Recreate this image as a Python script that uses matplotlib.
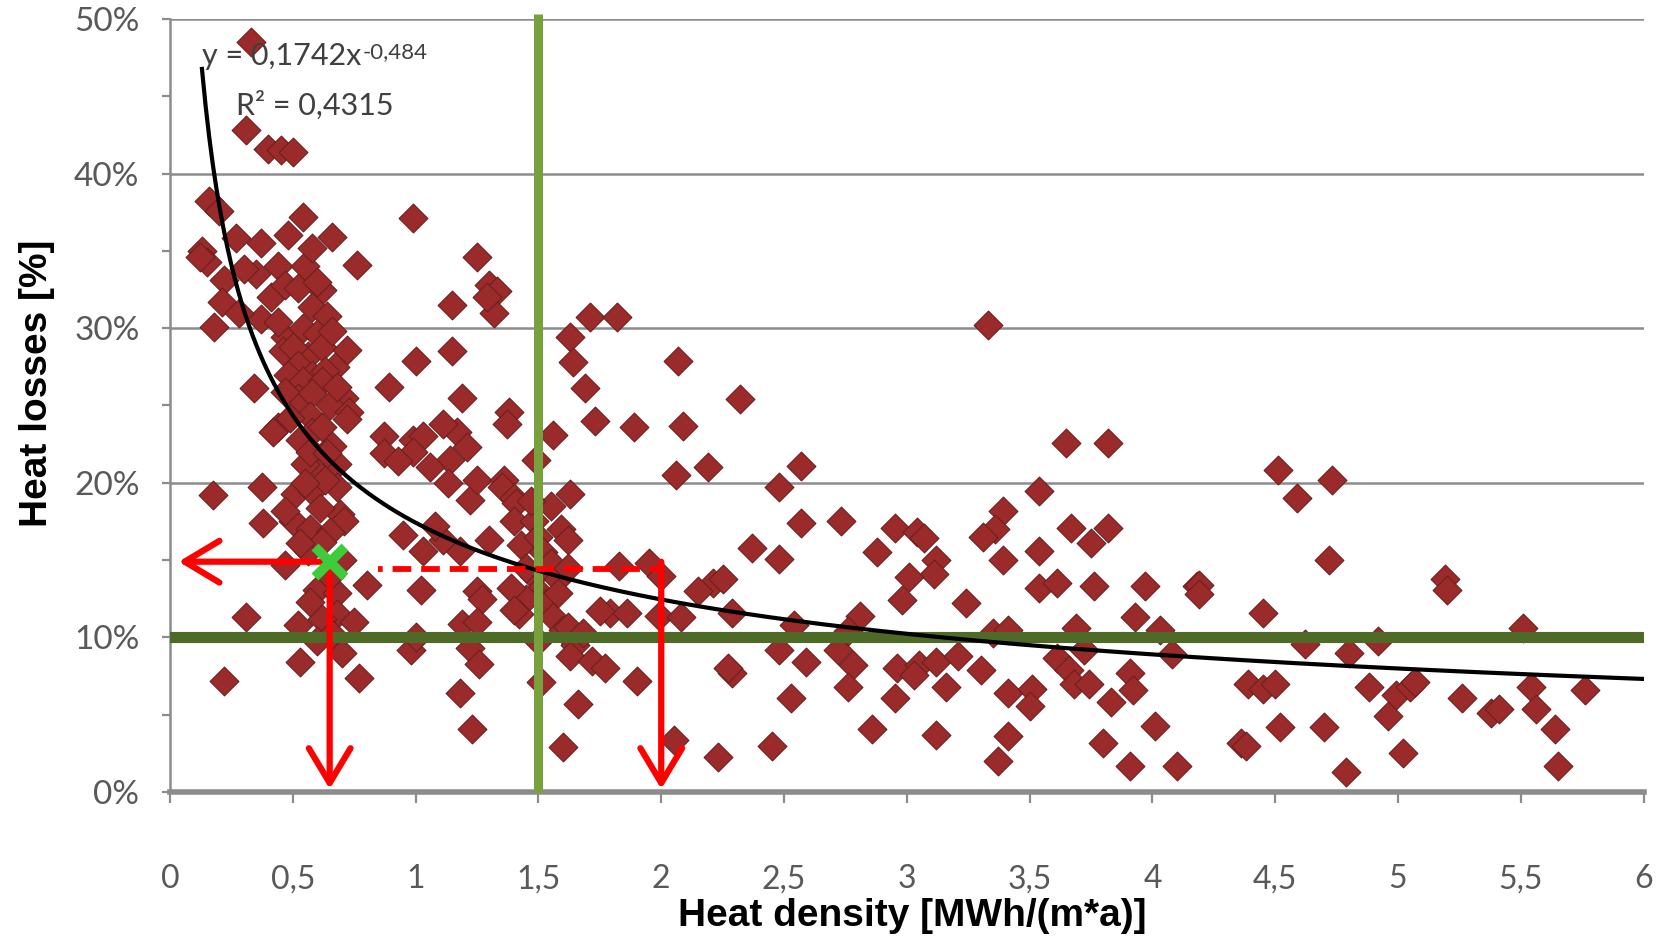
import matplotlib
matplotlib.use('Agg')
import numpy as np
import matplotlib.pyplot as plt
from matplotlib import font_manager
from matplotlib.ticker import MultipleLocator

# measured networks: heat density [MWh/(m*a)] and heat losses [%]
heat_density = [
    0.33, 0.31, 0.40, 0.45, 0.50, 0.16, 0.20, 0.54, 0.13, 0.15, 0.12, 0.27, 0.37, 0.48, 0.66, 0.76,
    0.22, 0.35, 0.44, 0.55, 0.62, 0.30, 0.58, 0.21, 0.41, 0.58, 0.64, 0.47, 0.52, 0.60,
    0.18, 0.37, 0.47, 0.54, 0.28, 0.44, 0.60, 0.46, 0.56, 0.62, 0.72, 0.50, 0.66,
    0.52, 0.58, 0.67, 0.48, 0.63, 0.34, 0.54, 0.62, 0.71, 0.52, 0.65, 0.73, 0.58, 0.68, 0.47,
    0.44, 0.57, 0.72, 0.58, 0.53, 0.42, 0.49, 0.62, 0.66, 0.60, 0.62, 0.55, 0.57, 0.68, 0.64,
    0.175, 0.375, 0.51, 0.58, 0.68, 0.63, 0.55, 0.38, 0.50, 0.57, 0.69, 0.71, 0.61, 0.47, 0.65,
    0.47, 0.70, 0.56, 0.62, 0.53, 0.80, 0.60, 0.68, 0.57, 0.65, 0.31, 0.52, 0.68, 0.75, 0.62,
    0.60, 0.70, 0.53, 0.22, 0.77, 0.66,
    0.99, 1.25, 1.30, 1.33, 1.32, 1.15, 1.29, 1.00, 1.15, 0.89, 1.19,
    0.87, 0.99, 1.03, 1.17, 1.21, 1.11, 0.87, 0.99, 1.14, 0.93, 1.06, 1.13, 1.22, 1.25, 1.36, 1.35,
    0.95, 1.03, 1.18, 1.11, 1.30, 1.08, 1.02, 1.25, 1.27, 1.19, 1.25, 0.98, 1.00, 1.22, 1.26, 1.18, 1.23,
    1.38, 1.37, 1.56, 1.73, 1.89, 2.09, 1.49, 2.06, 2.19, 1.71, 1.82, 1.63, 1.64, 2.07, 1.69, 2.32,
    1.63, 1.40, 1.41, 1.55, 1.59, 1.62, 1.40, 1.43, 1.48, 1.50, 1.52, 1.55, 1.48, 1.45, 1.50, 1.53,
    1.45, 1.42, 1.56, 1.60, 1.65, 1.63, 1.50, 1.58, 1.62, 1.47,
    1.83, 1.95, 2.00, 2.21, 1.58, 1.39, 1.40, 1.79, 1.86, 1.99, 2.29, 1.62, 1.68, 1.72, 1.77, 1.90,
    2.29, 1.51, 1.66, 1.60, 2.05, 2.23, 2.37, 2.15, 2.25, 2.08, 1.75,
    3.33, 2.57, 2.48, 3.65, 3.82, 3.54, 2.48, 2.57, 2.73, 2.95, 3.04, 3.07, 2.88, 3.12, 3.11, 3.01,
    2.98, 3.24, 3.39, 3.36, 3.31, 3.39, 3.54, 3.67, 3.75, 3.82, 3.54, 3.61, 3.76, 3.97, 4.18, 3.93,
    4.03, 3.69, 2.81, 2.76, 2.54, 2.48, 2.59, 2.72, 2.78, 2.76, 2.53, 2.45, 2.27,
    2.96, 3.05, 3.12, 3.16, 3.03, 2.95, 2.86, 3.12, 3.21, 3.30, 3.35, 3.41, 3.41, 3.51, 3.50, 3.41,
    3.37, 3.61, 3.66, 3.68, 3.74, 3.72, 3.83, 3.91, 3.92, 4.01, 3.80, 3.91, 4.10, 4.08, 4.19, 4.19,
    4.51, 4.59, 4.73, 4.72, 5.19, 5.20, 4.45, 4.62, 4.92, 5.51, 4.80, 4.39, 4.45, 4.50, 4.88, 4.99,
    5.05, 5.07, 5.26, 5.38, 5.41, 5.54, 5.56, 5.76, 5.64, 5.65, 4.96, 4.52, 4.70, 4.36, 4.38, 5.02,
    4.79,
]
heat_losses = [
    48.5, 42.8, 41.6, 41.5, 41.4, 38.2, 37.6, 37.2, 35.0, 34.3, 34.6, 35.8, 35.5, 36.0, 35.9, 34.1,
    33.1, 33.5, 34.0, 34.0, 32.5, 33.8, 35.2, 31.7, 32.0, 31.4, 30.8, 32.8, 32.6, 33.0,
    30.1, 30.6, 29.4, 30.0, 31.0, 30.4, 29.6, 28.5, 28.2, 28.8, 28.6, 28.8, 29.8,
    27.6, 27.0, 27.5, 27.0, 27.2, 26.1, 26.6, 26.6, 25.5, 25.5, 25.0, 24.6, 25.8, 26.2, 25.9,
    23.6, 24.3, 24.1, 23.3, 22.8, 23.3, 24.2, 23.6, 22.4, 21.7, 20.8, 21.2, 22.0, 21.2, 21.9,
    19.2, 19.7, 19.3, 19.5, 19.7, 20.2, 20.0, 17.4, 17.5, 17.0, 18.0, 17.5, 18.4, 18.2, 16.8,
    14.7, 15.0, 15.6, 16.2, 16.1, 13.4, 13.1, 12.9, 12.3, 14.0, 11.3, 10.8, 11.5, 11.0, 11.2,
    9.8, 9.0, 8.4, 7.2, 7.4, 10.2,
    37.1, 34.6, 32.8, 32.4, 31.0, 31.5, 32.0, 27.9, 28.5, 26.2, 25.5,
    23.0, 22.8, 23.0, 23.3, 22.3, 23.8, 21.9, 22.0, 21.5, 21.4, 21.0, 20.0, 18.9, 20.2, 20.2, 19.7,
    16.6, 15.6, 15.6, 16.3, 16.3, 17.2, 13.1, 13.0, 12.5, 10.9, 11.0, 9.2, 10.0, 9.3, 8.3, 6.4, 4.1,
    24.6, 23.8, 23.1, 24.0, 23.6, 23.7, 21.5, 20.5, 21.0, 30.7, 30.7, 29.4, 27.8, 27.9, 26.1, 25.4,
    19.3, 19.0, 18.7, 18.5, 17.0, 16.3, 17.5, 16.0, 17.5, 16.5, 15.5, 14.8, 14.0, 14.5, 13.0, 12.2,
    12.5, 11.5, 11.3, 10.5, 9.5, 8.8, 9.8, 13.8, 14.5, 18.8,
    14.6, 14.8, 14.0, 13.5, 12.9, 13.2, 11.8, 11.6, 11.6, 11.4, 11.6, 10.7, 10.3, 8.5, 8.0, 7.2,
    7.7, 7.1, 5.7, 2.9, 3.4, 2.3, 15.8, 13.0, 13.8, 11.3, 11.7,
    30.2, 21.1, 19.7, 22.6, 22.6, 19.5, 15.1, 17.4, 17.5, 17.1, 16.8, 16.4, 15.5, 15.0, 14.1, 13.9,
    12.4, 12.2, 18.2, 17.0, 16.5, 15.0, 15.6, 17.1, 16.1, 17.1, 13.2, 13.5, 13.3, 13.3, 13.3, 11.3,
    10.5, 10.6, 11.4, 10.4, 10.8, 9.2, 8.4, 9.2, 8.2, 6.8, 6.1, 3.0, 8.0,
    8.0, 8.2, 8.4, 6.8, 7.6, 6.1, 4.1, 3.7, 8.8, 7.9, 10.3, 10.5, 6.4, 6.7, 5.6, 3.6,
    2.0, 8.7, 7.9, 7.0, 7.0, 9.2, 5.8, 7.7, 6.6, 4.3, 3.2, 1.7, 1.7, 8.9, 13.4, 12.8,
    20.8, 19.0, 20.2, 15.0, 13.8, 13.1, 11.6, 9.6, 9.8, 10.6, 9.0, 7.0, 6.7, 7.0, 6.8, 6.3,
    6.8, 7.1, 6.1, 5.1, 5.4, 6.8, 5.4, 6.6, 4.1, 1.7, 4.9, 4.2, 4.2, 3.2, 3.0, 2.5,
    1.3,
]

# power trendline y = a * x^b, as printed on the chart
fit_a = 0.1742
fit_b = -0.484
fit_r2 = "0,4315"
fit_x_start = 0.13

# limits and the example reading
limit_density = 1.5
limit_losses = 10
example_x, example_y = 0.65, 14.9
reading_y = 14.4
target_x = 2.0

x_ticks = [0, 0.5, 1, 1.5, 2, 2.5, 3, 3.5, 4, 4.5, 5, 5.5, 6]
x_tick_labels = ["0", "0,5", "1", "1,5", "2", "2,5", "3", "3,5", "4", "4,5", "5", "5,5", "6"]
y_ticks = [0, 10, 20, 30, 40, 50]
y_tick_labels = ["0%", "10%", "20%", "30%", "40%", "50%"]

names = {f.name for f in font_manager.fontManager.ttflist}
if "Liberation Sans Narrow" in names:
    label_font, label_size = "Liberation Sans Narrow", 33
else:
    label_font, label_size = "Liberation Sans", 28
text_font = ["Lato", "DejaVu Sans"]
grey = "#8c8c8c"
text_grey = "#595959"

fig = plt.figure(figsize=(16.67, 9.43), dpi=100)
ax = fig.add_axes([0.102, 0.160, 0.884, 0.820])

ax.set_xlim(0, 6)
ax.set_ylim(0, 50)
ax.set_xticks(x_ticks)
ax.set_xticklabels(x_tick_labels, fontfamily=text_font)
ax.set_yticks(y_ticks)
ax.set_yticklabels(y_tick_labels, fontfamily=text_font)
ax.yaxis.set_minor_locator(MultipleLocator(5))
ax.yaxis.grid(True, color=grey, lw=1.8)
ax.set_axisbelow(True)

for s in ["top", "right"]:
    ax.spines[s].set_visible(False)
ax.spines["left"].set_color(grey)
ax.spines["left"].set_linewidth(1.8)
ax.spines["bottom"].set_color(grey)
ax.spines["bottom"].set_linewidth(4)

ax.tick_params(axis="y", which="both", direction="out", length=6, width=1.6,
               color=grey, labelsize=24, labelcolor=text_grey, pad=16)
ax.tick_params(axis="x", direction="out", length=8, width=1.6,
               color=grey, labelsize=23, labelcolor=text_grey, pad=44)

# data points
ax.scatter(heat_density, heat_losses, marker="D", s=215, c="#9b2b2b",
           edgecolors="#6e1e1e", linewidths=0.8, zorder=3)

# trendline
xs = np.linspace(fit_x_start, 6, 400)
ax.plot(xs, fit_a * xs ** fit_b * 100, color="black", lw=3, zorder=5)

# limit lines
ax.axhline(limit_losses, color="#4d6b26", lw=8, zorder=4)
ax.plot([limit_density, limit_density], [0, 50.3], color="#78a03c", lw=6.5,
        zorder=4, clip_on=False, solid_capstyle="butt")

# equation
t1 = ax.text(fit_x_start, 47.6, "y = 0,1742x", fontsize=22, color="#404040",
             fontfamily=text_font, va="center", ha="left", zorder=6)
ax.annotate("-0,484", xy=(1, 1), xycoords=t1, xytext=(1, 0), textcoords="offset points",
            fontsize=16, color="#404040", fontfamily=text_font, va="top", ha="left", zorder=6)
ax.text(0.27, 44.4, "R² = " + fit_r2, fontsize=22, color="#404040",
        fontfamily=text_font, va="center", ha="left", zorder=6)

# example reading arrows
red = "#ff0000"
arrow = dict(arrowstyle="->,head_length=1.25,head_width=0.75", color=red, lw=4.5,
             mutation_scale=20, shrinkA=0, shrinkB=0)
ax.annotate("", xy=(0.035, example_y), xytext=(example_x, example_y), arrowprops=arrow, zorder=7)
ax.annotate("", xy=(example_x, 0.2), xytext=(example_x, example_y), arrowprops=arrow, zorder=7)
ax.annotate("", xy=(target_x, 0.2), xytext=(target_x, example_y), arrowprops=arrow, zorder=7)
ax.plot([0.845, target_x], [reading_y, reading_y], color=red, lw=4.2,
        linestyle=(2.4, (3.2, 1.7)), zorder=7)
ax.plot([example_x], [example_y], marker="x", markersize=22, mew=7,
        color="#3ccc3c", zorder=8)

# axis titles
fig.text(912 / 1667, 1 - 916 / 943, "Heat density [MWh/(m*a)]", fontsize=label_size,
         fontweight="bold", fontfamily=label_font, ha="center", va="center")
fig.text(37 / 1667, 1 - 383 / 943, "Heat losses [%]", fontsize=label_size,
         fontweight="bold", fontfamily=label_font, ha="center", va="center", rotation=90)

fig.savefig("out.png", dpi=100)
